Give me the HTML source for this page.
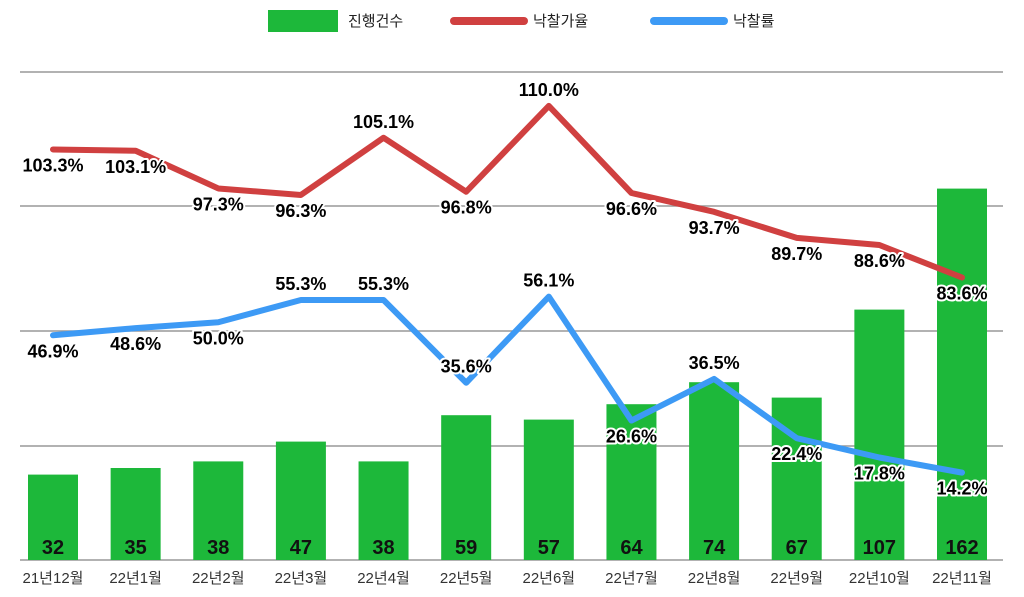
<!DOCTYPE html>
<html><head><meta charset="utf-8"><style>
body{margin:0;background:#fff;}
svg{display:block;font-family:"Liberation Sans","Noto Sans CJK KR",sans-serif;}
.lbl{font-weight:bold;font-size:18px;fill:#000;stroke:#fff;stroke-width:4px;paint-order:stroke;stroke-linejoin:round;}
</style></head><body>
<svg id="chart" width="1024" height="597">
<g>
<rect x="268" y="10" width="70" height="22" fill="#1db83a"/>
<text x="348" y="26" font-size="15" fill="#222">진행건수</text>
<line x1="454" y1="21" x2="524" y2="21" stroke="#d04040" stroke-width="8" stroke-linecap="round"/>
<text x="533" y="26" font-size="15" fill="#222">낙찰가율</text>
<line x1="654" y1="21" x2="724" y2="21" stroke="#3d9af5" stroke-width="8" stroke-linecap="round"/>
<text x="733" y="26" font-size="15" fill="#222">낙찰률</text>
</g>
<g id="grid"></g>
<g id="bars"></g>
<g id="lines"></g>
<g id="labels"></g>
</svg>
<script>
const categories=["21년12월","22년1월","22년2월","22년3월","22년4월","22년5월","22년6월","22년7월","22년8월","22년9월","22년10월","22년11월"];
const counts=[32,35,38,47,38,59,57,64,74,67,107,162];
const priceRatio=[103.3,103.1,97.3,96.3,105.1,96.8,110.0,96.6,93.7,89.7,88.6,83.6];
const winRate=[46.9,48.6,50.0,55.3,55.3,35.6,56.1,26.6,36.5,22.4,17.8,14.2];
const priceAbove=[0,0,0,0,1,0,1,0,0,0,0,0];
const rateAbove=[0,0,0,1,1,1,1,0,1,0,0,0];
const NS="http://www.w3.org/2000/svg";
const base=560;
function x(i){return 53+i*(962-53)/(categories.length-1);}
function yBar(v){return base-(15+v*2.2);}
function yPrice(v){return 193-(v-96.6)*6.5;}
function yRate(v){return 300+(55.3-v)*4.2;}
function mk(tag,attrs,parent){const e=document.createElementNS(NS,tag);for(const k in attrs)e.setAttribute(k,attrs[k]);document.getElementById(parent).appendChild(e);return e;}
[72,206,331,446].forEach(gy=>{
  const l=mk('line',{x1:20,x2:1003,y1:gy,y2:gy,stroke:'#999','stroke-width':1.5},'grid');
  
  
});
const ax=mk('line',{x1:20,x2:1003,y1:base,y2:base,stroke:'#999','stroke-width':1.5},'grid');


categories.forEach((c,i)=>{
  const r=mk('rect',{x:x(i)-25,y:yBar(counts[i]),width:50,height:base-yBar(counts[i]),fill:'#1db83a'},'bars');
  
  
  const t=mk('text',{x:x(i),y:554,'text-anchor':'middle','font-size':20,'font-weight':'bold',fill:'#111'},'bars');
  t.textContent=counts[i];
  
  
  const xl=mk('text',{x:x(i),y:583,'text-anchor':'middle','font-size':15,fill:'#333'},'bars');
  xl.textContent=c;
  
  
});
function line(vals,yf,color,name){
  const d=vals.map((v,i)=>(i?'L':'M')+x(i)+','+yf(v)).join(' ');
  const p=mk('path',{d:d,fill:'none',stroke:color,'stroke-width':6,'stroke-linejoin':'round','stroke-linecap':'round'},'lines');
  
  
}
line(priceRatio,yPrice,'#d04040','price-ratio-line');
line(winRate,yRate,'#3d9af5','win-rate-line');
function labels(vals,yf,above,name){
  vals.forEach((v,i)=>{
    const t=mk('text',{x:x(i),y:yf(v)+(above[i]?-10:22),'text-anchor':'middle',class:'lbl'},'labels');
    t.textContent=v.toFixed(1)+'%';
    
    
  });
}
labels(priceRatio,yPrice,priceAbove,'price-ratio-label');
labels(winRate,yRate,rateAbove,'win-rate-label');
</script>
</body></html>
